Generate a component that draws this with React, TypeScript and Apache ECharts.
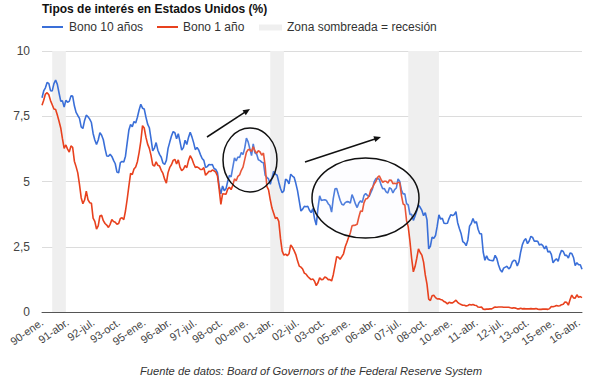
import React, { useEffect, useRef } from "react";
import * as echarts from "echarts";

const START_YEAR = 1990;
const MONTHS_ES = ["ene.", "feb.", "mar.", "abr.", "may.", "jun.", "jul.", "ago.", "sep.", "oct.", "nov.", "dic."];

// Bono 10 años (%), mensual desde 1990-ene.
const bono10 = [
  8.21, 8.47, 8.59, 8.79, 8.76, 8.48, 8.47, 8.75, 8.89, 8.72, 8.39, 8.08,
  8.09, 7.85, 8.11, 8.04, 8.07, 8.28, 8.27, 7.90, 7.65, 7.53, 7.42, 7.09,
  7.03, 7.34, 7.54, 7.48, 7.39, 7.26, 6.84, 6.59, 6.42, 6.59, 6.87, 6.77,
  6.60, 6.26, 5.98, 5.97, 6.04, 5.96, 5.81, 5.68, 5.36, 5.33, 5.72, 5.77,
  5.75, 5.97, 6.48, 6.97, 7.18, 7.10, 7.30, 7.24, 7.46, 7.74, 7.96, 7.81,
  7.78, 7.47, 7.20, 7.06, 6.63, 6.17, 6.28, 6.49, 6.20, 6.04, 5.93, 5.71,
  5.65, 5.81, 6.27, 6.51, 6.74, 6.91, 6.87, 6.64, 6.83, 6.53, 6.20, 6.30,
  6.58, 6.42, 6.69, 6.89, 6.71, 6.49, 6.22, 6.30, 6.21, 6.03, 5.88, 5.81,
  5.54, 5.57, 5.65, 5.64, 5.65, 5.50, 5.46, 5.34, 4.81, 4.53, 4.83, 4.65,
  4.72, 5.00, 5.23, 5.18, 5.54, 5.90, 5.79, 5.94, 5.92, 6.11, 6.03, 6.28,
  6.66, 6.52, 6.26, 5.99, 6.44, 6.10, 6.05, 5.83, 5.80, 5.74, 5.72, 5.24,
  5.16, 5.10, 4.89, 5.14, 5.39, 5.28, 5.24, 4.97, 4.73, 4.57, 4.65, 5.09,
  5.04, 4.91, 5.28, 5.21, 5.16, 4.93, 4.65, 4.26, 3.87, 3.94, 4.05, 4.03,
  4.05, 3.90, 3.81, 3.96, 3.57, 3.33, 3.98, 4.45, 4.27, 4.29, 4.30, 4.27,
  4.15, 4.08, 3.83, 4.35, 4.72, 4.73, 4.50, 4.28, 4.13, 4.10, 4.19, 4.23,
  4.22, 4.17, 4.50, 4.34, 4.14, 4.00, 4.18, 4.26, 4.20, 4.46, 4.54, 4.47,
  4.42, 4.57, 4.72, 4.99, 5.11, 5.11, 5.09, 4.88, 4.72, 4.73, 4.60, 4.56,
  4.76, 4.72, 4.56, 4.69, 4.75, 5.10, 5.00, 4.67, 4.52, 4.53, 4.15, 4.10,
  3.74, 3.74, 3.51, 3.68, 3.88, 4.10, 4.01, 3.89, 3.69, 3.81, 3.53, 2.42,
  2.52, 2.87, 2.82, 2.93, 3.29, 3.72, 3.56, 3.59, 3.40, 3.39, 3.40, 3.59,
  3.73, 3.69, 3.73, 3.85, 3.42, 3.20, 3.01, 2.70, 2.65, 2.54, 2.76, 3.29,
  3.39, 3.58, 3.41, 3.46, 3.17, 3.00, 3.00, 2.30, 1.98, 2.15, 2.01, 1.98,
  1.97, 1.97, 2.17, 2.05, 1.80, 1.62, 1.53, 1.68, 1.72, 1.75, 1.65, 1.72,
  1.91, 1.98, 1.96, 1.76, 1.93, 2.30, 2.58, 2.74, 2.81, 2.62, 2.72, 2.90,
  2.86, 2.71, 2.72, 2.71, 2.56, 2.60, 2.54, 2.42, 2.53, 2.30, 2.33, 2.21,
  1.88, 1.98, 2.04, 1.94, 2.20, 2.36, 2.32, 2.17, 2.17, 2.07, 2.26, 2.24,
  2.09, 1.78, 1.89, 1.81, 1.81, 1.64,
];

// Bono 1 año (%), mensual desde 1990-ene.
const bono1 = [
  7.92, 8.11, 8.35, 8.40, 8.32, 8.10, 7.94, 7.78, 7.76, 7.55, 7.31, 7.05,
  6.64, 6.27, 6.40, 6.24, 6.13, 6.36, 6.31, 5.78, 5.57, 5.33, 4.89, 4.38,
  4.15, 4.29, 4.63, 4.30, 4.19, 4.17, 3.60, 3.47, 3.18, 3.30, 3.68, 3.71,
  3.50, 3.39, 3.33, 3.24, 3.36, 3.54, 3.47, 3.44, 3.36, 3.39, 3.58, 3.61,
  3.54, 3.87, 4.32, 4.82, 5.31, 5.27, 5.48, 5.56, 5.76, 6.11, 6.54, 7.14,
  7.05, 6.70, 6.43, 6.27, 6.00, 5.64, 5.59, 5.75, 5.62, 5.59, 5.43, 5.31,
  5.09, 4.94, 5.34, 5.54, 5.64, 5.81, 5.85, 5.67, 5.83, 5.55, 5.42, 5.47,
  5.61, 5.53, 5.80, 5.99, 5.87, 5.69, 5.54, 5.56, 5.52, 5.46, 5.46, 5.53,
  5.24, 5.31, 5.39, 5.38, 5.44, 5.41, 5.36, 5.21, 4.71, 4.12, 4.53, 4.52,
  4.51, 4.70, 4.78, 4.69, 4.85, 5.10, 5.03, 5.20, 5.25, 5.43, 5.55, 5.84,
  6.12, 6.22, 6.22, 6.15, 6.33, 6.17, 6.08, 6.18, 6.13, 6.01, 6.09, 5.60,
  4.81, 4.68, 4.30, 3.98, 3.78, 3.58, 3.62, 3.47, 2.82, 2.33, 2.18, 2.22,
  2.16, 2.23, 2.57, 2.48, 2.35, 2.20, 1.96, 1.76, 1.72, 1.65, 1.49, 1.45,
  1.36, 1.30, 1.24, 1.27, 1.18, 1.01, 1.12, 1.31, 1.24, 1.25, 1.34, 1.31,
  1.24, 1.24, 1.19, 1.43, 1.78, 2.12, 2.10, 2.02, 2.12, 2.23, 2.50, 2.67,
  2.86, 3.03, 3.30, 3.32, 3.33, 3.36, 3.64, 3.87, 3.85, 4.18, 4.33, 4.35,
  4.45, 4.68, 4.77, 4.90, 5.00, 5.16, 5.22, 5.08, 4.97, 5.01, 5.01, 4.94,
  5.06, 5.05, 4.92, 4.93, 4.91, 4.96, 4.96, 4.47, 4.14, 4.10, 3.50, 3.26,
  2.71, 2.05, 1.54, 1.74, 2.06, 2.42, 2.28, 2.18, 1.91, 1.42, 1.07, 0.49,
  0.44, 0.62, 0.64, 0.55, 0.50, 0.51, 0.48, 0.46, 0.40, 0.37, 0.31, 0.37,
  0.35, 0.35, 0.40, 0.45, 0.37, 0.32, 0.29, 0.26, 0.26, 0.23, 0.25, 0.29,
  0.27, 0.29, 0.26, 0.25, 0.19, 0.18, 0.19, 0.11, 0.10, 0.11, 0.11, 0.12,
  0.12, 0.16, 0.19, 0.18, 0.19, 0.19, 0.19, 0.18, 0.18, 0.18, 0.18, 0.16,
  0.15, 0.16, 0.15, 0.12, 0.12, 0.14, 0.12, 0.13, 0.12, 0.12, 0.12, 0.13,
  0.12, 0.12, 0.13, 0.11, 0.10, 0.10, 0.11, 0.11, 0.11, 0.10, 0.13, 0.21,
  0.20, 0.22, 0.25, 0.23, 0.24, 0.28, 0.30, 0.38, 0.37, 0.26, 0.48, 0.65,
  0.54, 0.53, 0.66, 0.56, 0.59, 0.55,
];

const categories = bono10.map((_, i) => {
  const y = (START_YEAR + Math.floor(i / 12)) % 100;
  return String(y).padStart(2, "0") + "-" + MONTHS_ES[i % 12];
});

const recessions: [string, string][] = [
  ["90-jul.", "91-mar."],
  ["01-mar.", "01-nov."],
  ["07-dic.", "09-jun."],
];

const BLUE = "#3a6fd8";
const RED = "#e8411e";
const FONT = "Liberation Sans, Arial, sans-serif";

export default function App() {
  const ref = useRef<HTMLDivElement>(null);
  useEffect(() => {
    if (!ref.current) return;
    const chart = echarts.init(ref.current, undefined, { renderer: "svg" });
    chart.setOption({
      animation: false,
      textStyle: { fontFamily: FONT },
      grid: { left: 42, right: 8, top: 51, bottom: 74 },
      xAxis: {
        type: "category",
        data: categories,
        boundaryGap: false,
        axisLine: { lineStyle: { color: "#555", width: 1 } },
        axisTick: { show: false },
        axisLabel: {
          interval: 14,
          rotate: 35,
          color: "#444",
          fontSize: 11,
          margin: 9,
          fontFamily: FONT,
        },
        splitLine: { show: false },
      },
      yAxis: {
        type: "value",
        min: 0,
        max: 10,
        interval: 2.5,
        axisLine: { show: false },
        axisTick: { show: false },
        axisLabel: {
          color: "#444",
          fontSize: 12,
          margin: 12,
          fontFamily: FONT,
          formatter: (v: number) => String(v).replace(".", ","),
        },
        splitLine: { lineStyle: { color: "#dcdcdc", width: 1 } },
      },
      series: [
        {
          name: "Zona sombreada = recesión",
          type: "line",
          data: [],
          silent: true,
          markArea: {
            silent: true,
            itemStyle: { color: "#efefef" },
            data: recessions.map(([a, b]) => [{ xAxis: a }, { xAxis: b }]),
          },
        },
        {
          name: "Bono 10 años",
          type: "line",
          data: bono10,
          showSymbol: false,
          lineStyle: { color: BLUE, width: 1.6 },
          itemStyle: { color: BLUE },
          z: 3,
        },
        {
          name: "Bono 1 año",
          type: "line",
          data: bono1,
          showSymbol: false,
          lineStyle: { color: RED, width: 1.6 },
          itemStyle: { color: RED },
          z: 4,
        },
      ],
      graphic: [
        {
          type: "text",
          left: 42,
          top: 3,
          style: { text: "Tipos de interés en Estados Unidos (%)", fill: "#111", font: "bold 12px " + FONT },
        },
        { type: "line", shape: { x1: 42, y1: 27, x2: 63, y2: 27 }, style: { stroke: BLUE, lineWidth: 2 } },
        { type: "text", x: 69, y: 27, style: { text: "Bono 10 años", fill: "#333", font: "12px " + FONT, textVerticalAlign: "middle" } },
        { type: "line", shape: { x1: 157, y1: 27, x2: 178, y2: 27 }, style: { stroke: RED, lineWidth: 2 } },
        { type: "text", x: 183, y: 27, style: { text: "Bono 1 año", fill: "#333", font: "12px " + FONT, textVerticalAlign: "middle" } },
        { type: "rect", shape: { x: 259, y: 24.5, width: 23, height: 6 }, style: { fill: "#efefef" } },
        { type: "text", x: 287, y: 27, style: { text: "Zona sombreada = recesión", fill: "#333", font: "12px " + FONT, textVerticalAlign: "middle" } },
        // annotations
        { type: "ellipse", z: 10, shape: { cx: 250, cy: 160, rx: 27, ry: 32 }, style: { fill: "rgba(235,235,255,0.12)", stroke: "#111", lineWidth: 1.5 } },
        { type: "ellipse", z: 10, shape: { cx: 365.5, cy: 198, rx: 53.5, ry: 40 }, style: { fill: "rgba(235,235,255,0.12)", stroke: "#111", lineWidth: 1.5 } },
        { type: "line", z: 10, shape: { x1: 207, y1: 137, x2: 245, y2: 112.2 }, style: { stroke: "#111", lineWidth: 1.5 } },
        { type: "polygon", z: 10, shape: { points: [[250, 109], [245.8, 115.3], [242.5, 110.3]] }, style: { fill: "#111" } },
        { type: "line", z: 10, shape: { x1: 305, y1: 162, x2: 375, y2: 139 }, style: { stroke: "#111", lineWidth: 1.5 } },
        { type: "polygon", z: 10, shape: { points: [[381, 137], [375.3, 142.0], [373.4, 136.3]] }, style: { fill: "#111" } },
        {
          type: "text",
          x: 311,
          y: 371,
          style: {
            text: "Fuente de datos: Board of Governors of the Federal Reserve System",
            fill: "#333",
            font: "italic 11.2px " + FONT,
            textAlign: "center",
            textVerticalAlign: "middle",
          },
        },
      ],
    });
    return () => chart.dispose();
  }, []);
  return <div ref={ref} style={{ width: 590, height: 386, position: "absolute", left: 0, top: 0 }} />;
}
